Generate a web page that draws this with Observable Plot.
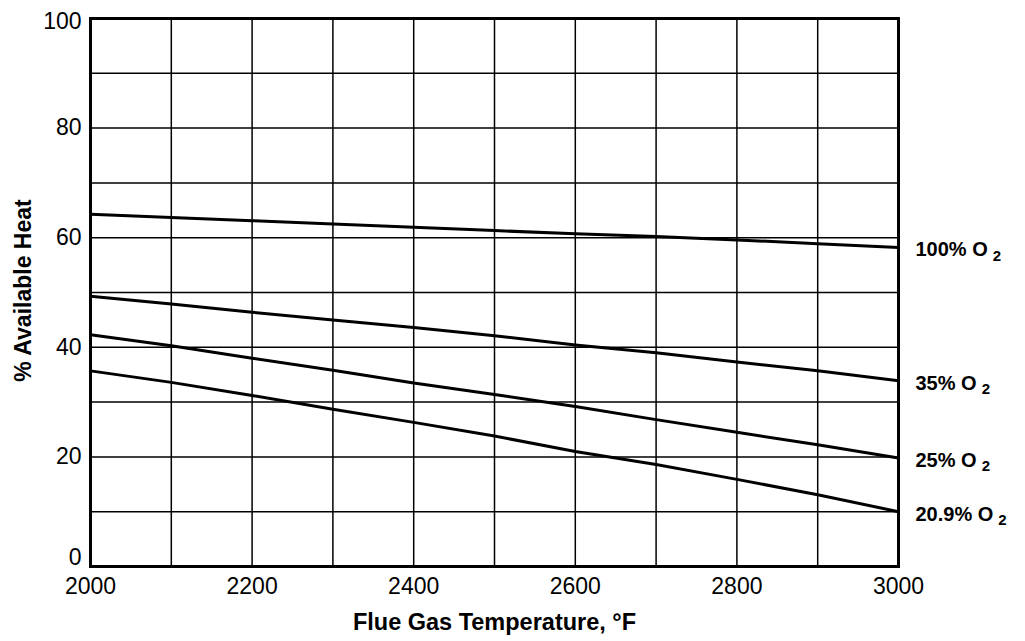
<!DOCTYPE html>
<html>
<head>
<meta charset="utf-8">
<script src="https://cdn.jsdelivr.net/npm/d3@7"></script>
<script src="https://cdn.jsdelivr.net/npm/@observablehq/plot@0.6"></script>
<style>
  html, body { margin: 0; padding: 0; background: #fff; }
  #chart svg { display: block; overflow: visible; }
</style>
</head>
<body>
<div id="chart"></div>
<script>
// ---- data ----
const temps = [2000, 2100, 2200, 2300, 2400, 2500, 2600, 2700, 2800, 2900, 3000];
const seriesNames = ["100% O2", "35% O2", "25% O2", "20.9% O2"];
const heat100 = [64.3, 63.7, 63.1, 62.5, 61.9, 61.3, 60.7, 60.2, 59.6, 58.9, 58.2];
const heat35  = [49.3, 47.9, 46.4, 45.0, 43.6, 42.1, 40.4, 39.0, 37.3, 35.7, 33.9];
const heat25  = [42.3, 40.3, 38.0, 35.8, 33.5, 31.4, 29.2, 26.8, 24.5, 22.2, 19.8];
const heat209 = [35.7, 33.6, 31.2, 28.7, 26.3, 23.8, 21.0, 18.6, 15.9, 13.1, 10.0];
const xTickLabels = [2000, 2200, 2400, 2600, 2800, 3000];
const yTickLabelsMid = [20, 40, 60, 80];
const yTickLabelTop = [100];
const yTickLabelBottom = [0];
const xGrid = [2100, 2200, 2300, 2400, 2500, 2600, 2700, 2800, 2900];
const yGrid = [10, 20, 30, 40, 50, 60, 70, 80, 90];
const xTitle = "Flue Gas Temperature, °F";
const yTitle = "% Available Heat";

const seriesValues = [heat100, heat35, heat25, heat209];
const rows = [];
seriesNames.forEach((name, i) => {
  temps.forEach((t, j) => rows.push({series: name, temp: t, heat: seriesValues[i][j]}));
});
const endLabels = seriesNames.map((name, i) => ({
  series: name, temp: temps[temps.length - 1], heat: seriesValues[i][seriesValues[i].length - 1]
}));

const font = "'Liberation Sans', Arial, Helvetica, sans-serif";
const yAxisOpts = {tickSize: 0, tickPadding: 9, fontSize: 23, label: null};

const svg = Plot.plot({
  width: 1025,
  height: 641,
  marginLeft: 90,
  marginRight: 127,
  marginTop: 18,
  marginBottom: 75,
  style: {fontFamily: font, background: "#fff", color: "#000", overflow: "visible"},
  x: {domain: [2000, 3000]},
  y: {domain: [0, 100]},
  marks: [
    Plot.ruleX(xGrid, {stroke: "#000", strokeWidth: 1.5}),
    Plot.ruleY(yGrid, {stroke: "#000", strokeWidth: 1.5}),
    Plot.line(rows, {x: "temp", y: "heat", z: "series", stroke: "#000", strokeWidth: 3}),
    Plot.frame({stroke: "#000", strokeWidth: 3}),
    Plot.axisX(xTickLabels, {tickSize: 0, tickPadding: 11, fontSize: 23, label: null, tickFormat: d => String(d)}),
    Plot.axisY(yTickLabelsMid, {...yAxisOpts, dy: 0}),
    Plot.axisY(yTickLabelTop, {...yAxisOpts, dy: 3}),
    Plot.axisY(yTickLabelBottom, {...yAxisOpts, dy: -9}),
    Plot.text([xTitle], {frameAnchor: "bottom", dy: 63, fontSize: 23.5, fontWeight: "bold", fill: "#000"}),
    Plot.text([yTitle], {frameAnchor: "left", textAnchor: "middle", dx: -67, dy: -2, rotate: -90,
      fontSize: 23, fontWeight: "bold", fill: "#000"}),
    Plot.text(endLabels, {x: "temp", y: "heat", text: "series", dx: 17, dy: 2.5, textAnchor: "start",
      fontSize: 20, fontWeight: "bold", fill: "#000", className: "o2lab"})
  ]
});

// subscript the trailing "2" of each O2 label
svg.querySelectorAll(".o2lab text").forEach(t => {
  const s = t.textContent;
  const main = s.slice(0, -1);
  const sub = s.slice(-1);
  t.textContent = main;
  const ts = document.createElementNS("http://www.w3.org/2000/svg", "tspan");
  ts.setAttribute("dx", "5");
  ts.setAttribute("dy", "4.5");
  ts.setAttribute("font-size", "15");
  ts.textContent = sub;
  t.appendChild(ts);
});

document.getElementById("chart").appendChild(svg);
</script>
</body>
</html>
